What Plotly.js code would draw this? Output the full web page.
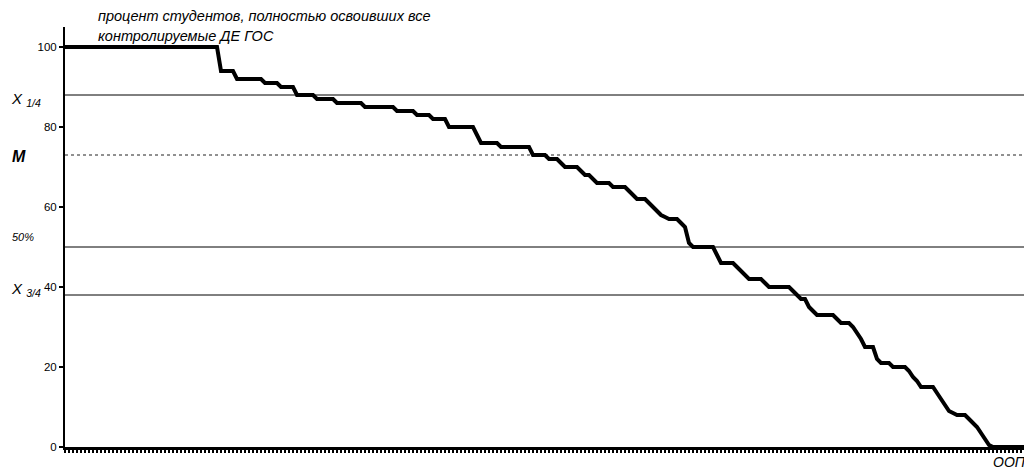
<!DOCTYPE html>
<html>
<head>
<meta charset="utf-8">
<script src="https://cdn.plot.ly/plotly-3.0.1.min.js"></script>
<style>
html,body{margin:0;padding:0;background:#fff;overflow:hidden;}
#chart{width:1024px;height:471px;}
</style>
</head>
<body>
<div id="chart"></div>
<script>
// Share (%) of students who fully mastered all controlled DE GOS, per ООП (sorted descending)
const percentValues = [
  100,100,100,100,100,100,100,100,100,100,
  100,100,100,100,100,100,100,100,100,100,
  100,100,100,100,100,100,100,100,100,100,
  100,100,100,100,100,100,100,100,100,94,
  94,94,94,92,92,92,92,92,92,92,
  91,91,91,91,90,90,90,90,88,88,
  88,88,88,87,87,87,87,87,86,86,
  86,86,86,86,86,85,85,85,85,85,
  85,85,85,84,84,84,84,84,83,83,
  83,83,82,82,82,82,80,80,80,80,
  80,80,80,78,76,76,76,76,76,75,
  75,75,75,75,75,75,75,73,73,73,
  73,72,72,72,71,70,70,70,70,69,
  68,68,67,66,66,66,66,65,65,65,
  65,64,63,62,62,62,61,60,59,58,
  57.5,57,57,57,56,55,51,50,50,50,
  50,50,50,48,46,46,46,46,45,44,
  43,42,42,42,42,41,40,40,40,40,
  40,40,39,38,37,37,35,34,33,33,
  33,33,33,32,31,31,31,30,28.5,27,
  25,25,25,22,21,21,21,20,20,20,
  20,19,17.5,16.5,15,15,15,15,13.5,12,
  10.5,9,8.5,8,8,8,7,6,5,3.5,
  2,0.5,0,0,0,0,0,0,0,0,
  0
];
const programIndex = percentValues.map((v, i) => i);

// Reference levels
const levelNames = ['X1/4', 'M', '50%', 'X3/4'];
const levelValues = [88, 73, 50, 38];
const yTickValues = [0, 20, 40, 60, 80, 100];
const yTickLabels = ['0', '20', '40', '60', '80', '100'];
const titleLines = ['процент студентов, полностью освоивших все', 'контролируемые ДЕ ГОС'];
const xAxisLabel = 'ООП';

const plotLeft = 65, plotWidth = 959, plotTop = 27, plotHeight = 420;
const px = x => (x - plotLeft) / plotWidth;
const py = y => 1 - (y - plotTop) / plotHeight;

const font = 'Arial, "Liberation Sans", sans-serif';

const shapes = levelValues.map((v, k) => ({
  type: 'line', xref: 'paper', yref: 'y', x0: 0, x1: 1, y0: v, y1: v,
  layer: 'below',
  line: levelNames[k] === 'M' ? {color: '#222', width: 1, dash: 'dot'} : {color: '#000', width: 1}
}));

const annotations = [
  {text: '<i>' + titleLines[0] + '</i>', xref: 'paper', yref: 'paper', x: px(96), y: py(16), xanchor: 'left', yanchor: 'middle', showarrow: false, font: {family: font, size: 14.5, color: '#000'}},
  {text: '<i>' + titleLines[1] + '</i>', xref: 'paper', yref: 'paper', x: px(96), y: py(36), xanchor: 'left', yanchor: 'middle', showarrow: false, font: {family: font, size: 14.5, color: '#000'}},
  {text: '<i>X <sub>1/4</sub></i>', xref: 'paper', yref: 'paper', x: px(9), y: py(99), xanchor: 'left', yanchor: 'middle', showarrow: false, font: {family: font, size: 15, color: '#000'}},
  {text: '<b><i>M</i></b>', xref: 'paper', yref: 'paper', x: px(10), y: py(156), xanchor: 'left', yanchor: 'middle', showarrow: false, font: {family: font, size: 16, color: '#000'}},
  {text: '<i>50%</i>', xref: 'paper', yref: 'paper', x: px(10), y: py(237), xanchor: 'left', yanchor: 'middle', showarrow: false, font: {family: font, size: 11, color: '#000'}},
  {text: '<i>X <sub>3/4</sub></i>', xref: 'paper', yref: 'paper', x: px(9), y: py(289), xanchor: 'left', yanchor: 'middle', showarrow: false, font: {family: font, size: 15, color: '#000'}},
  {text: '<i>' + xAxisLabel + '</i>', xref: 'paper', yref: 'paper', x: px(991), y: py(462), xanchor: 'left', yanchor: 'middle', showarrow: false, font: {family: font, size: 14, color: '#000'}}
];

const trace = {
  x: programIndex,
  y: percentValues,
  type: 'scatter',
  mode: 'lines',
  line: {color: '#000', width: 4, shape: 'linear'},
  hoverinfo: 'skip',
  cliponaxis: false
};

const layout = {
  width: 1024, height: 471,
  margin: {l: plotLeft, r: 0, t: plotTop, b: 471 - plotTop - plotHeight, pad: 0},
  paper_bgcolor: '#fff', plot_bgcolor: '#fff',
  showlegend: false,
  xaxis: {
    range: [0, 239.75], showgrid: false, zeroline: false,
    showline: true, linecolor: '#000', linewidth: 3,
    ticks: 'outside', tick0: 0, dtick: 1, ticklen: 3, tickwidth: 2, tickcolor: '#000',
    showticklabels: false, fixedrange: true
  },
  yaxis: {
    range: [0, 105], showgrid: false, zeroline: false,
    showline: true, linecolor: '#000', linewidth: 2,
    ticks: 'outside', tickvals: yTickValues, ticktext: yTickLabels,
    ticklen: 4, tickwidth: 2, tickcolor: '#000',
    tickfont: {family: font, size: 11.5, color: '#000'}, fixedrange: true
  },
  shapes: shapes,
  annotations: annotations
};

Plotly.newPlot('chart', [trace], layout, {displayModeBar: false, staticPlot: true});
</script>
</body>
</html>
